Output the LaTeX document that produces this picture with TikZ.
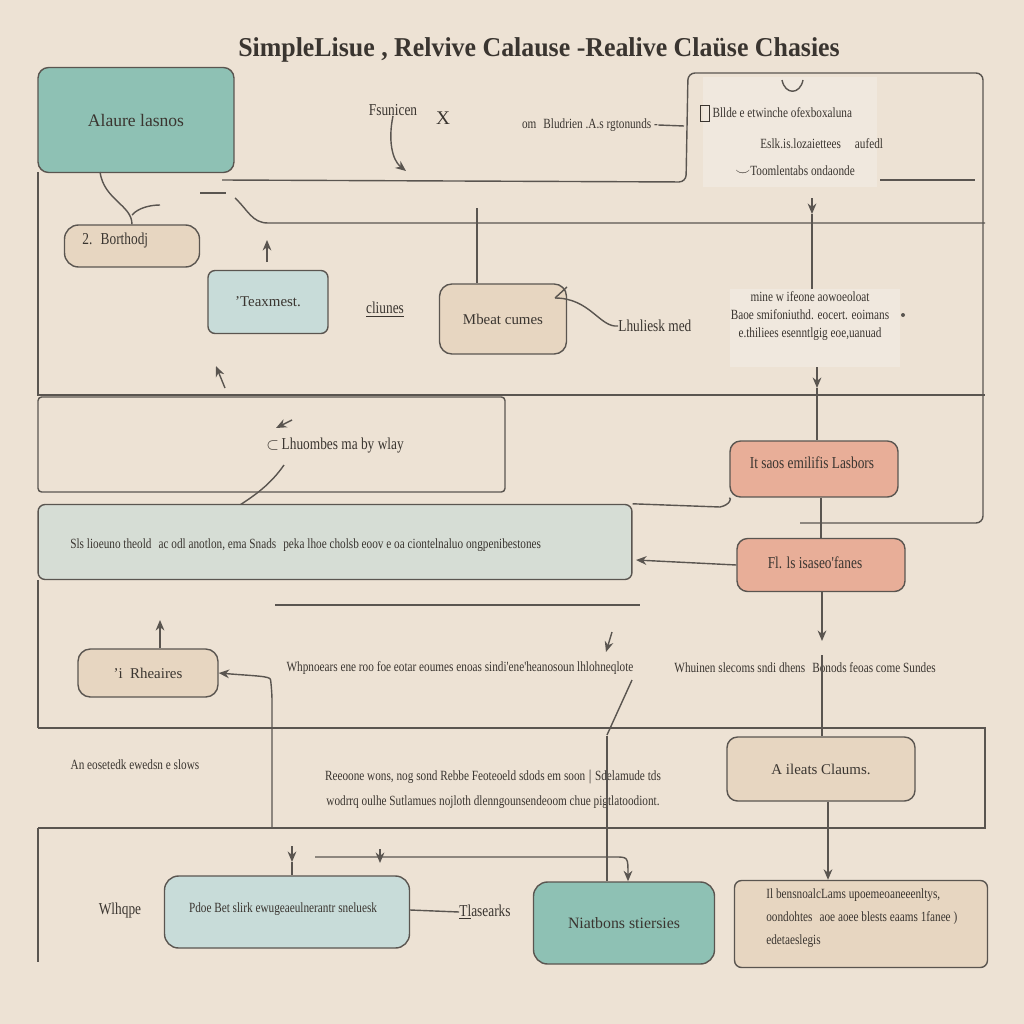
\documentclass[tikz,border=0pt]{standalone}
\usepackage{fontspec}
\setmainfont{Liberation Serif}
\newfontfamily\cnd[FakeStretch=0.8]{Liberation Serif}
\newfontfamily\ttl[FakeStretch=0.95]{Liberation Serif}
\usetikzlibrary{arrows.meta}
\definecolor{bgc}{HTML}{EDE2D4}
\definecolor{tealc}{HTML}{8EC1B4}
\definecolor{bluec}{HTML}{C8DCD9}
\definecolor{widec}{HTML}{D6DDD5}
\definecolor{tanc}{HTML}{E7D6C1}
\definecolor{salc}{HTML}{E8AE98}
\definecolor{paperc}{HTML}{F0E8DE}
\definecolor{lnc}{HTML}{5A5550}
\definecolor{txc}{HTML}{3A3530}
\begin{document}
\begin{tikzpicture}[x=0.02cm,y=-0.02cm,
  box/.style={draw=lnc, line width=0.8pt, rounded corners=6pt, align=center, inner sep=0pt, text=txc},
  plain/.style={inner sep=0pt, text=txc, align=center},
  ln/.style={draw=lnc, line width=0.8pt},
  arr/.style={ln, -{Stealth[length=6pt,width=5pt]}},
  sm/.style={font=\cnd\fontsize{8}{10}\selectfont},
  md/.style={font=\cnd\fontsize{9.5}{11}\selectfont}]
\fill[bgc] (0,0) rectangle (1024,1024);
\useasboundingbox (0,0) rectangle (1024,1024);

% title
\node[plain, font=\ttl\bfseries\fontsize{15.5}{18}\selectfont] (title) at (539,50) {SimpleLisue , Relvive Calause -Realive Claüse Chasies};

% frame lines
\coordinate (f1) at (222,180);
\coordinate (f2) at (686,182);
\draw[ln, rounded corners=4pt] (f1) -- (f2) -- (688,73) -- (983,73) -- (983,523) -- (800,523);
\draw[ln] (200,193) -- (226,193);
\draw[ln] (235,198) .. controls (248,210) and (252,223) .. (268,223) -- (985,223);
\draw[ln] (38,172) -- (38,395) -- (985,395);
\draw[ln] (880,180) -- (975,180);

% top-left
\node[box, fill=tealc, minimum width=3.92cm, minimum height=2.1cm] (A) at (136,120) {\fontsize{10}{12}\selectfont Alaure lasnos};
\node[box, fill=tanc, minimum width=2.7cm, minimum height=0.84cm, rounded corners=8pt] (B) at (132,246) {};
\node[plain, md, anchor=west] (Bt) at (82,240) {2.\enspace Borthodj};
\coordinate (a1) at (100,172);
\draw[ln] (a1) .. controls (104,200) and (132,205) .. (B.north);
\draw[ln] (132,215) .. controls (138,208) and (150,205) .. (160,205);
\coordinate (u1) at (267,262);
\draw[arr] (u1) -- (267,240);

\node[box, fill=bluec, minimum width=2.4cm, minimum height=1.26cm, rounded corners=4pt] (C) at (268,302) {\fontsize{8.5}{10}\selectfont 'Teaxmest.};
\node[plain, md] (cl) at (385,310) {\underline{cliunes}};
\coordinate (v1) at (477,208);
\node[box, fill=tanc, minimum width=2.54cm, minimum height=1.4cm, rounded corners=7pt] (D) at (503,319) {\fontsize{8.5}{10}\selectfont Mbeat cumes};
\draw[ln] (v1) -- (D.north -| v1);
\node[plain, md, anchor=west] (lh) at (618,326) {Lhuliesk med};
\draw[ln] (555,298) -- (567,287);
\draw[ln] (555,298) .. controls (590,298) and (600,328) .. (lh.west);
\coordinate (d1) at (225,388);
\draw[arr] (d1) -- (216,366);

% top middle
\node[plain, md] (fs) at (393,110) {Fsunicen};
\node[plain, font=\fontsize{11}{12}\selectfont] (xx) at (443,118) {X};
\node[plain, sm] (om) at (590,125) {om\enspace Bludrien .A.s rgtonunds -};
\coordinate (om2) at (684,126);
\draw[ln] (om.east) -- (om2);
\draw[arr] (fs.south) .. controls (388,140) and (392,160) .. (406,171);

% top right text block
\node[fill=paperc, minimum width=3.5cm, minimum height=2.2cm, inner sep=0pt] (E) at (790,132) {};
\node[plain, sm, anchor=west] (E1) at (700,113) {{\fboxsep=1.5pt\fbox{\phantom{l}}}\,Bllde e etwinche ofexboxaluna};
\node[plain, sm, anchor=west] (E2) at (760,144) {Eslk.is.lozaiettees\quad aufedl};
\node[plain, sm, anchor=west] (E3) at (735,171) {$\smile$Toomlentabs ondaonde};
\draw[ln] (782,80) .. controls (785,95) and (800,95) .. (803,80);

% mid-right text block
\node[fill=paperc, minimum width=3.4cm, minimum height=1.56cm, inner sep=0pt] (F) at (815,328) {};
\node[plain, sm, align=center] (Ft) at (810,316) {mine w ifeone aowoeoloat\\[0pt]Baoe smifoniuthd. eocert. eoimans\\[0pt]e.thiliees esenntlgig eoe,uanuad};
\fill[lnc] (903,315) circle (2);
\coordinate (t1) at (812,198);
\draw[arr] (t1) -- (812,214);
\draw[ln] (812,214) -- (F.north -| t1);

% frame box O
\node[draw=lnc, line width=0.8pt, rounded corners=2pt, minimum width=9.34cm, minimum height=1.9cm, inner sep=0pt] (O) at (271.5,444.5) {};
\node[plain, md] (Ot) at (335,446) {$\subset$\,Lhuombes ma by wlay};
\coordinate (o1) at (292,420);
\draw[arr] (o1) -- (276,428);
\coordinate (o2) at (240,505);
\draw[ln] (o2) .. controls (255,495) and (270,485) .. (284,465);

% salmon boxes
\node[box, fill=salc, minimum width=3.36cm, minimum height=1.12cm] (G) at (814,469) {};
\node[plain, md] (Gt) at (812,463) {It saos emilifis Lasbors};
\node[box, fill=salc, minimum width=3.36cm, minimum height=1.06cm] (H) at (821,565) {};
\node[plain, md] (Ht) at (815,563) {Fl. ls isaseo'fanes};
\draw[arr] (F.south -| 817,0) -- (817,388);
\draw[ln] (817,388) -- (G.north -| 817,0);
\draw[ln] (G.south -| 821,0) -- (H.north -| 821,0);

% wide box
\node[box, fill=widec, minimum width=11.88cm, minimum height=1.5cm, rounded corners=4pt] (I) at (335,542) {};
\node[plain, sm, anchor=west] (It) at (70,545) {Sls lioeuno theold\enspace ac odl anotlon, ema Snads\enspace peka lhoe cholsb eoov e oa ciontelnaluo ongpenibestones};
\draw[ln] (I.north east) -- (720,507) .. controls (730,505) and (732,498) .. (G.south west);
\draw[arr] (H.west) -- (636,560);
\draw[ln] (275,605) -- (640,605);
\draw[ln] (38,580) -- (38,728);

% row 3
\node[box, fill=tanc, minimum width=2.8cm, minimum height=0.96cm, rounded corners=7pt] (J) at (148,673) {\fontsize{8.5}{10}\selectfont 'i\enspace Rheaires};
\coordinate (j1) at (160,620);
\draw[arr] (J.north -| j1) -- (j1);
\coordinate (r1) at (272,828);
\draw[arr, rounded corners=6pt] (r1) -- (272,690) .. controls (270,676) and (255,676) .. (J.east);
\node[plain, sm] (L1) at (460,668) {Whpnoears ene roo foe eotar eoumes enoas sindi'ene'heanosoun lhlohneqlote};
\node[plain, sm] (L2) at (805,668) {Whuinen slecoms sndi dhens\enspace Bonods feoas come Sundes};
\coordinate (p1) at (612,632);
\draw[arr] (p1) -- (606,652);
\draw[ln] (632,680) -- (607,735);
\draw[arr] (H.south -| 822,0) -- (822,641);
\coordinate (k1) at (822,655);
\draw[ln] (k1) -- (822,736);
\draw[ln] (38,728) -- (985,728) -- (985,828) -- (38,828);

% row 4
\node[plain, sm] (R1) at (135,765) {An eosetedk ewedsn e slows};
\node[plain, sm, align=center] (R2) at (493,789) {Reeoone wons, nog sond Rebbe Feoteoeld sdods em soon $|$ Sdelamude tds\\[4pt]wodrrq oulhe Sutlamues nojloth dlenngounsendeoom chue pigtlatoodiont.};
\node[box, fill=tanc, minimum width=3.76cm, minimum height=1.28cm] (K) at (821,769) {\fontsize{8.5}{10}\selectfont A ileats Claums.};

% bottom
\draw[ln] (38,828) -- (38,962);
\node[box, fill=bluec, minimum width=4.9cm, minimum height=1.44cm, rounded corners=8pt] (L) at (287,912) {};
\node[plain, sm] (Lt) at (283,909) {Pdoe Bet slirk ewugeaeulnerantr sneluesk};
\node[plain, md] (W) at (120,910) {Wlhqpe};
\node[plain, md] (Ts) at (485,912) {\underline{Tl}asearks};
\draw[ln] (L.east |- 0,910) -- (Ts.west);
\node[box, fill=tealc, minimum width=3.62cm, minimum height=1.64cm, rounded corners=8pt] (M) at (624,923) {\fontsize{9}{11}\selectfont Niatbons stiersies};
\node[box, fill=tanc, minimum width=5.06cm, minimum height=1.74cm, rounded corners=4pt] (N) at (861,924) {};
\node[plain, sm, anchor=west, align=left] (Nt) at (766,918) {Il bensnoalcLams upoemeoaneeenltys,\\[3pt]oondohtes\enspace aoe aoee blests eaams 1fanee )\\[3pt]edetaeslegis};
\coordinate (l1) at (292,846);
\draw[arr] (l1) -- (292,862);
\draw[ln] (292,862) -- (L.north -| 292,0);
\coordinate (b1) at (315,857);
\draw[arr] (b1) -- (615,857) .. controls (628,857) .. (M.north -| 628,0);
\draw[arr] (380,849) -- (380,863);
\draw[ln] (607,736) -- (M.north -| 607,0);
\draw[arr] (K.south -| 828,0) -- (N.north -| 828,0);
\end{tikzpicture}
\end{document}
